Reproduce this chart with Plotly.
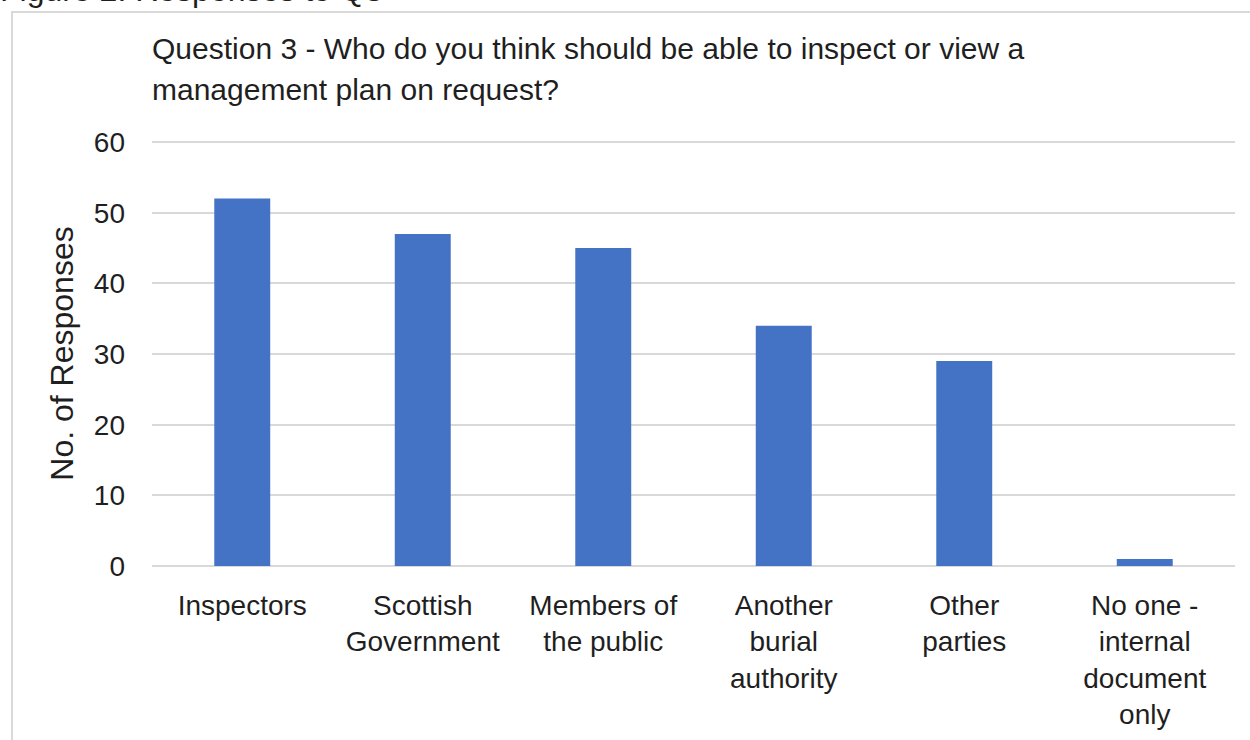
import plotly.graph_objects as go

# Survey responses to Question 3
categories = [
    "Inspectors",
    "Scottish<br>Government",
    "Members of<br>the public",
    "Another<br>burial<br>authority",
    "Other<br>parties",
    "No one -<br>internal<br>document<br>only",
]
responses = [52, 47, 45, 34, 29, 1]
y_ticks = [0, 10, 20, 30, 40, 50, 60]

FONT = "Liberation Sans, Arial, sans-serif"
TEXT = "#1f1f1f"

W, H = 1250, 740
L, R, T, B = 152, 15, 141, 174
pw, ph = W - L - R, H - T - B


def px_x(x):
    return (x - L) / pw


def px_y(y):
    return (H - B - y) / ph


fig = go.Figure(
    go.Bar(
        x=categories,
        y=responses,
        marker=dict(color="#4472C4", line=dict(width=0)),
        width=0.31,
    )
)

fig.update_layout(
    width=W,
    height=H,
    margin=dict(l=L, r=R, t=T, b=B, autoexpand=False),
    paper_bgcolor="white",
    plot_bgcolor="white",
    showlegend=False,
    font=dict(family=FONT, color=TEXT),
    xaxis=dict(
        tickfont=dict(size=28, family=FONT, color=TEXT),
        showgrid=False,
        showline=False,
        ticks="",
        ticklabelstandoff=20,
        automargin=False,
    ),
    yaxis=dict(
        range=[0, 60.15],
        tickvals=y_ticks,
        tickfont=dict(size=28, family=FONT, color=TEXT),
        showgrid=True,
        gridcolor="#d9d9d9",
        gridwidth=2,
        zeroline=True,
        zerolinecolor="#d9d9d9",
        zerolinewidth=2,
        showline=False,
        ticks="",
        ticklabelstandoff=26,
        automargin=False,
        title=dict(text="No. of Responses", font=dict(size=32, family=FONT, color=TEXT), standoff=10),
    ),
    shapes=[
        dict(
            type="rect",
            xref="paper",
            yref="paper",
            x0=px_x(12),
            x1=px_x(W + 20),
            y0=px_y(H + 20),
            y1=px_y(12),
            line=dict(color="#d9d9d9", width=2),
            fillcolor="rgba(0,0,0,0)",
            layer="below",
        )
    ],
    annotations=[
        dict(
            text="Figure 2: Responses to Q3",
            xref="paper",
            yref="paper",
            x=px_x(-2),
            y=px_y(10),
            xanchor="left",
            yanchor="bottom",
            showarrow=False,
            font=dict(size=32, family=FONT, color=TEXT),
        ),
        dict(
            text="Question 3 - Who do you think should be able to inspect or view a",
            xref="paper",
            yref="paper",
            x=px_x(150),
            y=px_y(49),
            xanchor="left",
            yanchor="middle",
            showarrow=False,
            font=dict(size=30, family=FONT, color=TEXT),
        ),
        dict(
            text="management plan on request?",
            xref="paper",
            yref="paper",
            x=px_x(150),
            y=px_y(89),
            xanchor="left",
            yanchor="middle",
            showarrow=False,
            font=dict(size=30, family=FONT, color=TEXT),
        ),
    ],
)

fig.write_html("out.html")
